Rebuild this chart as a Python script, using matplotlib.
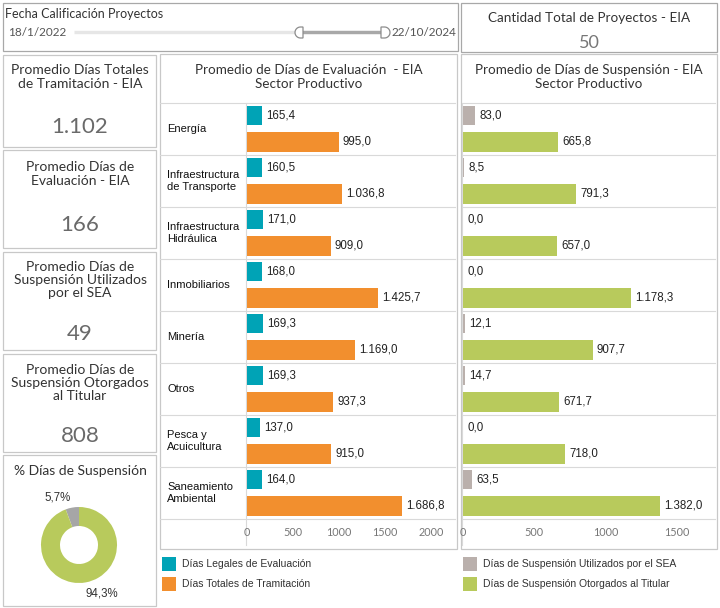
import numpy as np
import matplotlib
matplotlib.use("Agg")
import matplotlib.pyplot as plt
from matplotlib.patches import Rectangle, Polygon

# =========================
# DATA
# =========================

sectores = ["Energía", "Infraestructura\nde Transporte", "Infraestructura\nHidráulica",
            "Inmobiliarios", "Minería", "Otros", "Pesca y\nAcuicultura",
            "Saneamiento\nAmbiental"]
dias_legales = [165.4, 160.5, 171.0, 168.0, 169.3, 169.3, 137.0, 164.0]
dias_totales = [995.0, 1036.8, 909.0, 1425.7, 1169.0, 937.3, 915.0, 1686.8]
susp_sea = [83.0, 8.5, 0.0, 0.0, 12.1, 14.7, 0.0, 63.5]
susp_titular = [665.8, 791.3, 657.0, 1178.3, 907.7, 671.7, 718.0, 1382.0]

card_titles = ["Promedio Días Totales\nde Tramitación - EIA",
               "Promedio Días de\nEvaluación - EIA",
               "Promedio Días de\nSuspensión Utilizados\npor el SEA",
               "Promedio Días de\nSuspensión Otorgados\nal Titular"]
card_values = [1102, 166, 49, 808]
total_proyectos = 50
pct_values = [5.7, 94.3]
fecha_ini = "18/1/2022"
fecha_fin = "22/10/2024"
ticks_eval = [0, 500, 1000, 1500, 2000]
ticks_susp = [0, 500, 1000, 1500]

TEAL = "#00A3B6"
ORANGE = "#F28F2E"
GREY = "#BAB0AC"
GREEN = "#B8CA5C"
DONUT_GREY = "#A6A6A6"
LINE = "#D9D9D9"
BOX = "#C8C8C8"
TITLE_FONT = "Lato"
LABEL_FONT = "Liberation Sans"

W, H = 720, 608


def fmt_es(v, dec=1):
    s = f"{v:,.{dec}f}"
    return s.replace(",", "X").replace(".", ",").replace("X", ".")


def px(x0, y0, x1, y1):
    return [x0 / W, 1 - y1 / H, (x1 - x0) / W, (y1 - y0) / H]


fig = plt.figure(figsize=(7.2, 6.08), dpi=100)
fig.patch.set_facecolor("white")

# background axis in pixel coords
bg = fig.add_axes([0, 0, 1, 1], zorder=0)
bg.set_xlim(0, W)
bg.set_ylim(H, 0)
bg.axis("off")


def box(x0, y0, x1, y1, ec=BOX):
    bg.add_patch(Rectangle((x0, y0), x1 - x0, y1 - y0, fill=False, ec=ec, lw=0.9))


# =========================
# FILTER / SLIDER
# =========================
box(3, 3, 458, 51, "#A8A8A8")
bg.text(5, 14, "Fecha Calificación Proyectos", fontsize=9, family=TITLE_FONT,
        color="#333333", va="center")
bg.text(8, 33, fecha_ini, fontsize=8.5, family=TITLE_FONT, color="#555555", va="center")
bg.text(392, 33, fecha_fin, fontsize=8.5, family=TITLE_FONT, color="#555555", va="center")
bg.plot([74, 383], [32, 32], color="#E6E6E6", lw=2.4, solid_capstyle="butt")
bg.plot([300, 383], [32, 32], color="#A8A8A8", lw=2.4, solid_capstyle="butt")

t = np.linspace(np.pi / 2, 3 * np.pi / 2, 20)
left_h = [(303, 27)] + [(300.5 + 5.5 * np.cos(a), 32.5 - 5.5 * np.sin(a)) for a in t] + [(303, 38)]
right_h = [(381, 27)] + [(384.5 - 5.5 * np.cos(a), 32.5 - 5.5 * np.sin(a)) for a in t] + [(381, 38)]
for pts in (left_h, right_h):
    bg.add_patch(Polygon(pts, closed=True, fc="white", ec="#8C8C8C", lw=0.9, zorder=3))

# =========================
# TOTAL PROYECTOS
# =========================
box(461, 3, 717, 52, "#A8A8A8")
bg.text(589, 18, "Cantidad Total de Proyectos - EIA", fontsize=9.7, family=TITLE_FONT,
        color="#333333", ha="center", va="center")
bg.text(589, 43, str(total_proyectos), fontsize=13, family=TITLE_FONT,
        color="#777777", ha="center", va="center")

# =========================
# LEFT CARDS
# =========================
cards = [(55, 147, 77, 127), (150, 248, 174, 225), (252, 350, 280, 334), (354, 452, 383, 436)]
for (y0, y1, ty, vy), title, val in zip(cards, card_titles, card_values):
    box(3, y0, 156, y1)
    bg.text(80, ty, title, fontsize=10, family=TITLE_FONT, color="#333333",
            ha="center", va="center", linespacing=1.12)
    bg.text(80, vy, fmt_es(val, 0), fontsize=16, family=TITLE_FONT,
            color="#6A6A6A", ha="center", va="center")

# donut card
box(3, 455, 156, 606)
bg.text(80, 471, "% Días de Suspensión", fontsize=10, family=TITLE_FONT,
        color="#333333", ha="center", va="center")
ax_d = fig.add_axes(px(41, 507, 117, 583), zorder=2)
ax_d.pie(pct_values, colors=[DONUT_GREY, GREEN], startangle=90, counterclock=True,
         radius=1, wedgeprops=dict(width=0.5, edgecolor="none"))
ax_d.set_xlim(-1, 1)
ax_d.set_ylim(-1, 1)
ax_d.set_aspect("equal")
ax_d.text(-0.55, 1.24, fmt_es(pct_values[0]) + "%", fontsize=8.3, family=LABEL_FONT,
          color="#333333", ha="center", va="center", clip_on=False)
ax_d.text(0.6, -1.27, fmt_es(pct_values[1]) + "%", fontsize=8.3, family=LABEL_FONT,
          color="#333333", ha="center", va="center", clip_on=False)

# =========================
# BAR CHARTS
# =========================
TOP, ROW_H = 103, 52
n = len(sectores)
bottom = TOP + ROW_H * n


def bar_panel(bx0, bx1, ax_x0, ax_x1, xmax, title, v1, v2, c1, c2, ticks, with_labels):
    box(bx0, 54, bx1, 549)
    bg.text((bx0 + bx1) / 2, 77, title, fontsize=9.7, family=TITLE_FONT, color="#333333",
            ha="center", va="center", linespacing=1.3)
    line_x0 = bx0 if with_labels else ax_x0
    for k in range(n + 1):
        y = TOP + ROW_H * k
        bg.plot([line_x0, bx1 - 2], [y, y], color=LINE, lw=0.8)
    bg.plot([ax_x0 - 1, ax_x0 - 1], [TOP, 545], color=LINE, lw=0.8)
    if with_labels:
        for k, s in enumerate(sectores):
            bg.text(bx0 + 7, TOP + ROW_H * (k + 0.5), s, fontsize=8, family=LABEL_FONT,
                    color="#111111", va="center", linespacing=1.3)

    ax = fig.add_axes(px(ax_x0, TOP, ax_x1, bottom), zorder=2)
    ax.set_facecolor("none")
    ys = np.arange(n)
    ax.barh(ys + 0.24, v1, height=0.38, color=c1)
    ax.barh(ys + 0.745, v2, height=0.38, color=c2)
    for y, a, b in zip(ys, v1, v2):
        ax.annotate(fmt_es(a), (a, y + 0.24), xytext=(3, 0), textcoords="offset points",
                    fontsize=8.3, family=LABEL_FONT, color="#222222", va="center")
        ax.annotate(fmt_es(b), (b, y + 0.745), xytext=(3, 0), textcoords="offset points",
                    fontsize=8.3, family=LABEL_FONT, color="#222222", va="center")
    ax.set_ylim(n, 0)
    ax.set_xlim(0, xmax)
    ax.set_yticks([])
    ax.set_xticks(ticks)
    ax.set_xticklabels([str(t) for t in ticks])
    ax.tick_params(axis="x", length=0, pad=6, labelcolor="#777777", labelsize=7.8)
    for lab in ax.get_xticklabels():
        lab.set_family(TITLE_FONT)
    for sp in ax.spines.values():
        sp.set_visible(False)
    return ax


bar_panel(160, 457, 247, 455, 2260,
          "Promedio de Días de Evaluación  - EIA\nSector Productivo",
          dias_legales, dias_totales, TEAL, ORANGE, ticks_eval, True)
bar_panel(461, 717, 463, 715, 1766,
          "Promedio de Días de Suspensión - EIA\nSector Productivo",
          susp_sea, susp_titular, GREY, GREEN, ticks_susp, False)

# =========================
# LEGENDS
# =========================
legend_items = [(162, 564, TEAL, "Días Legales de Evaluación"),
                (162, 584, ORANGE, "Días Totales de Tramitación"),
                (463, 564, GREY, "Días de Suspensión Utilizados por el SEA"),
                (463, 584, GREEN, "Días de Suspensión Otorgados al Titular")]
for x, y, c, lab in legend_items:
    bg.add_patch(Rectangle((x, y - 7), 14, 14, color=c, lw=0))
    bg.text(x + 20, y, lab, fontsize=7.5, family=LABEL_FONT, color="#333333", va="center")

fig.savefig("out.png", dpi=100)
